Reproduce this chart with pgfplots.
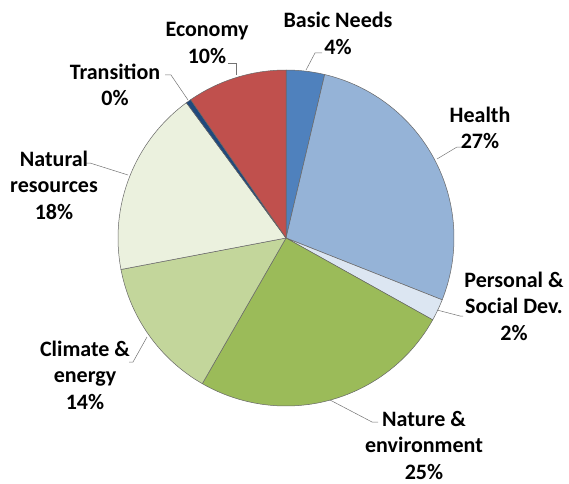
\documentclass[border=0pt]{standalone}
\usepackage{pgfplots}
\pgfplotsset{compat=1.18}
\usepackage{pgfplotstable}
\usepackage{fontspec}
\setmainfont{Carlito}
\definecolor{cBasic}{HTML}{4F81BD}
\definecolor{cHealth}{HTML}{95B3D7}
\definecolor{cPersonal}{HTML}{DCE6F2}
\definecolor{cNature}{HTML}{9BBB59}
\definecolor{cClimate}{HTML}{C3D69B}
\definecolor{cNatural}{HTML}{EBF1DE}
\definecolor{cTransition}{HTML}{1F497D}
\definecolor{cEconomy}{HTML}{C0504D}
% shares in percent, clockwise from 12 o'clock
\pgfplotstableread{
value color
3.7  cBasic
27.3 cHealth
2.1  cPersonal
25.2 cNature
13.7 cClimate
17.9 cNatural
0.5  cTransition
9.6  cEconomy
}\piedata
\begin{document}
\begin{tikzpicture}
\begin{axis}[
  width=569pt, height=483pt, scale only axis,
  xmin=0, xmax=569, ymin=0, ymax=483,
  hide axis, clip=false,
]
\path (axis cs:0,0) rectangle (axis cs:569,483);
\pgfplotstablegetrowsof{\piedata}
\pgfmathtruncatemacro{\N}{\pgfplotsretval-1}
\def\cum{0}
\pgfplotsforeachungrouped \i in {0,...,\N}{%
  \pgfplotstablegetelem{\i}{value}\of\piedata
  \let\v\pgfplotsretval
  \pgfplotstablegetelem{\i}{color}\of\piedata
  \let\c\pgfplotsretval
  \pgfmathsetmacro{\a}{90-3.6*\cum}%
  \pgfmathsetmacro{\b}{90-3.6*(\cum+\v)}%
  \edef\temp{\noexpand\filldraw[fill=\c, draw=black!60, line width=0.5pt, line join=round]
    (axis cs:286,245) -- ++(\a:168pt) arc[start angle=\a, end angle=\b, radius=168pt] -- cycle;}%
  \temp
  \pgfmathsetmacro{\cum}{\cum+\v}%
}
% leader lines
\begin{scope}[draw=black!55, line width=0.5pt]
\draw (axis cs:306,413) -- (axis cs:315,430) -- (axis cs:322,430);
\draw (axis cs:228,420) -- (axis cs:236,420) -- (axis cs:236,408);
\draw (axis cs:165,408) -- (axis cs:171,408) -- (axis cs:188,383);
\draw (axis cs:437,324) -- (axis cs:457,336) -- (axis cs:462,336);
\draw (axis cs:437,173) -- (axis cs:460,167) -- (axis cs:463,167);
\draw (axis cs:330,83) -- (axis cs:372,61) -- (axis cs:378,61);
\draw (axis cs:147,146) -- (axis cs:133,121) -- (axis cs:129,121);
\draw (axis cs:85,320) -- (axis cs:90,320) -- (axis cs:128,308);
\end{scope}
% labels
\begin{scope}[every node/.style={align=center, inner sep=0pt, font=\bfseries\fontsize{22}{26.5}\selectfont}]
\node at (axis cs:338,449.5) {Basic Needs\\4\%};
\node at (axis cs:480,355) {Health\\27\%};
\node at (axis cs:514,177) {Personal \&\\Social Dev.\\2\%};
\node at (axis cs:424,38) {Nature \&\\environment\\25\%};
\node at (axis cs:85,108) {Climate \&\\energy\\14\%};
\node at (axis cs:54,298) {Natural\\resources\\18\%};
\node at (axis cs:115,398) {Transition\\0\%};
\node at (axis cs:207,440) {Economy\\10\%};
\end{scope}
\end{axis}
\end{tikzpicture}
\end{document}
